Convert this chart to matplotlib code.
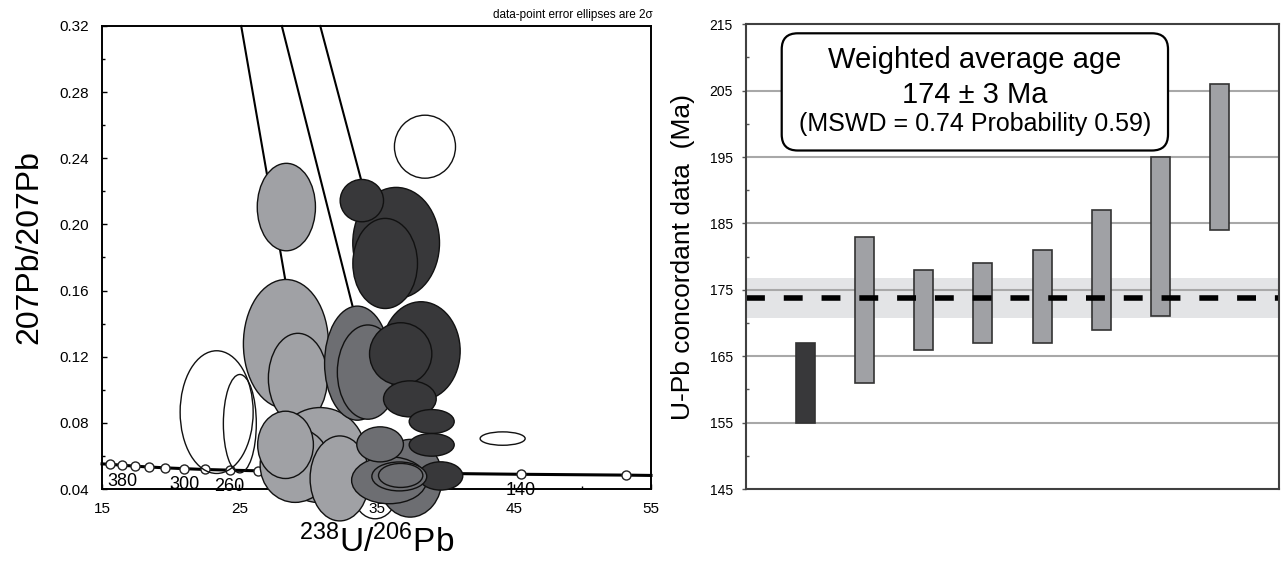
import matplotlib
matplotlib.use("Agg")
import matplotlib.pyplot as plt
from matplotlib.patches import Ellipse, FancyBboxPatch
from matplotlib.ticker import FixedLocator

plt.rcParams['font.family'] = ['Liberation Sans', 'DejaVu Sans']
plt.rcParams['mathtext.fontset'] = 'custom'
plt.rcParams['mathtext.rm'] = 'Liberation Sans'
plt.rcParams['mathtext.it'] = 'Liberation Sans:italic'
plt.rcParams['mathtext.bf'] = 'Liberation Sans:bold'

# --- left panel: Tera-Wasserburg diagram ---
x_ticks = [15, 25, 35, 45, 55]
x_minor = [20, 30, 40, 50]
y_ticks = [0.04, 0.08, 0.12, 0.16, 0.20, 0.24, 0.28, 0.32]
y_minor = [0.06, 0.10, 0.14, 0.18, 0.22, 0.26, 0.30]

# concordia age markers (Ma) and their positions
conc_age = [400, 380, 360, 340, 320, 300, 280, 260, 240, 220, 200, 180, 160, 140, 120]
conc_x = [15.6, 16.45, 17.4, 18.45, 19.6, 21.0, 22.5, 24.3, 26.35, 28.8, 31.7, 35.3, 39.8, 45.5, 53.2]
conc_y = [0.0549, 0.0544, 0.0538, 0.0533, 0.0528, 0.0523, 0.0518, 0.0514, 0.0510,
          0.0506, 0.0502, 0.0498, 0.0494, 0.0489, 0.0484]
conc_end_x = [15.0, 55.0]
conc_end_y = [0.0552, 0.0482]
conc_labels = [380, 300, 260, 220, 180, 140]

# common-Pb mixing lines (top point, lower point)
mix_x0 = [25.14, 28.10, 30.90]
mix_y0 = [0.32, 0.32, 0.32]
mix_x1 = [29.95, 34.79, 36.02]
mix_y1 = [0.09, 0.10, 0.16]

# data-point error ellipses: centre, width, height, group (in drawing order)
ell_x = [23.35, 25.04, 38.53, 44.19, 34.9,
         28.43, 28.40, 29.27, 30.89, 29.07, 28.37, 32.32,
         33.6, 34.37, 37.45, 35.92, 35.26,
         36.43, 35.63, 33.93, 38.24, 36.76, 37.43, 39.02, 39.02, 39.67,
         36.66, 36.76]
ell_y = [0.0865, 0.0795, 0.247, 0.0705, 0.036,
         0.2105, 0.1277, 0.1069, 0.0605, 0.0544, 0.0667, 0.0464,
         0.1161, 0.1107, 0.0465, 0.0453, 0.067,
         0.1888, 0.1764, 0.2144, 0.1235, 0.1217, 0.0945, 0.0808, 0.0667, 0.0479,
         0.0476, 0.0482]
ell_w = [5.32, 2.40, 4.45, 3.28, 3.0,
         4.24, 6.2, 4.3, 6.7, 5.1, 4.06, 4.32,
         4.77, 4.45, 4.66, 5.47, 3.4,
         6.32, 4.71, 3.16, 5.71, 4.54, 3.84, 3.28, 3.28, 3.23,
         4.0, 3.23]
ell_h = [0.0742, 0.0595, 0.0381, 0.0081, 0.028,
         0.0529, 0.078, 0.0545, 0.0575, 0.045, 0.0407, 0.0514,
         0.069, 0.057, 0.047, 0.0284, 0.0212,
         0.0672, 0.0545, 0.0256, 0.0595, 0.0377, 0.0218, 0.0145, 0.0137, 0.0171,
         0.0175, 0.0145]
ell_group = ['open'] * 5 + ['light'] * 7 + ['mid'] * 5 + ['dark'] * 9 + ['mid'] * 2

# --- right panel: weighted average ---
age_ticks = [145, 155, 165, 175, 185, 195, 205, 215]
age_minor = [150, 160, 170, 180, 190, 200, 210]
bar_pos = [1, 2, 3, 4, 5, 6, 7, 8]
bar_low = [155, 161, 166, 167, 167, 169, 171, 184]
bar_high = [167, 183, 178, 179, 181, 187, 195, 206]
bar_group = ['dark'] + ['light'] * 7
wavg = 173.8
wavg_err = 3.0

fills = {'open': 'none', 'light': '#a0a1a5', 'mid': '#6d6e72', 'dark': '#38383a'}

fig = plt.figure(figsize=(12.82, 5.70), dpi=100)
ax = fig.add_axes([0.0796, 0.1421, 0.4282, 0.8123])
ax2 = fig.add_axes([0.5819, 0.1421, 0.4158, 0.8153])

# left panel
ax.set_xlim(15, 55)
ax.set_ylim(0.04, 0.32)
for x0, y0, x1, y1 in zip(mix_x0, mix_y0, mix_x1, mix_y1):
    ax.plot([x0, x1], [y0, y1], color='black', lw=1.5, zorder=2, clip_on=False)

cx = [conc_end_x[0]] + conc_x + [conc_end_x[1]]
cy = [conc_end_y[0]] + conc_y + [conc_end_y[1]]
ax.plot(cx, cy, color='black', lw=2.2, zorder=2, clip_on=False)
ax.plot(conc_x, conc_y, ls='none', marker='o', ms=6.5, mfc='white', mec='#222222',
        mew=1, zorder=2.2, clip_on=False)
for age in conc_labels:
    i = conc_age.index(age)
    ax.text(conc_x[i], conc_y[i] - 0.0098, str(age), ha='center', va='center',
            fontsize=13, zorder=2.3)

for i in range(len(ell_x)):
    g = ell_group[i]
    e = Ellipse((ell_x[i], ell_y[i]), ell_w[i], ell_h[i], facecolor=fills[g],
                edgecolor='#111111', lw=1.0, zorder=4 + i * 0.01, clip_on=False)
    ax.add_patch(e)

ax.xaxis.set_major_locator(FixedLocator(x_ticks))
ax.xaxis.set_minor_locator(FixedLocator(x_minor))
ax.yaxis.set_major_locator(FixedLocator(y_ticks))
ax.yaxis.set_minor_locator(FixedLocator(y_minor))
ax.set_xticklabels([str(v) for v in x_ticks])
ax.set_yticklabels([f'{v:.2f}' for v in y_ticks])
ax.tick_params(which='major', direction='in', length=3.6, width=1, labelsize=11, pad=9.5)
ax.tick_params(which='minor', direction='in', length=2.2, width=1)
for s in ax.spines.values():
    s.set_linewidth(1.4)
    s.set_zorder(3)

ax.set_xlabel('$^{238}$U/$^{206}$Pb', fontsize=24)
ax.xaxis.set_label_coords(0.5, -0.076)
ax.set_ylabel('207Pb/207Pb', fontsize=23)
ax.yaxis.set_label_coords(-0.105, 0.523)
fig.text(0.509, 0.9737, 'data-point error ellipses are 2\u03c3', ha='right', va='center',
         fontsize=8.5)

# right panel
ax2.set_xlim(0, 9)
ax2.set_ylim(145, 215)
ax2.axhspan(wavg - wavg_err, wavg + wavg_err, color='#e3e4e6', lw=0, zorder=0.5)
for v in age_ticks[1:-1]:
    ax2.axhline(v, color='#a8a8a8', lw=1.5, zorder=1)
heights = [h - l for l, h in zip(bar_low, bar_high)]
ax2.bar(bar_pos, heights, bottom=bar_low, width=0.32,
        color=[fills[g] for g in bar_group], edgecolor='#333333', lw=1.2, zorder=2)
ax2.axhline(wavg, color='black', lw=4, ls=(0, (3.4, 3.4)), zorder=3)

box = FancyBboxPatch((0.067, 0.7284), 0.7247, 0.2522, transform=ax2.transAxes,
                     boxstyle='round,pad=0,rounding_size=0.03', mutation_aspect=1.147,
                     facecolor='white', edgecolor='black', lw=1.6, zorder=4)
ax2.add_patch(box)
ax2.text(0.4296, 0.9053, 'Weighted average age', transform=ax2.transAxes,
         ha='center', va='baseline', fontsize=21, zorder=5)
ax2.text(0.4296, 0.830, '174 \u00b1 3 Ma', transform=ax2.transAxes,
         ha='center', va='baseline', fontsize=21, zorder=5)
ax2.text(0.4296, 0.7693, '(MSWD = 0.74 Probability 0.59)', transform=ax2.transAxes,
         ha='center', va='baseline', fontsize=18, zorder=5)

ax2.yaxis.set_major_locator(FixedLocator(age_ticks))
ax2.yaxis.set_minor_locator(FixedLocator(age_minor))
ax2.set_yticklabels([str(v) for v in age_ticks])
ax2.set_xticks([])
ax2.tick_params(axis='y', which='major', direction='out', length=3, width=1,
                labelsize=10, pad=6.5, color='#555555')
ax2.tick_params(axis='y', which='minor', direction='in', length=2.2, width=1, color='#555555')
for s in ax2.spines.values():
    s.set_linewidth(1.5)
    s.set_color('#404040')
    s.set_zorder(6)
ax2.set_ylabel('U-Pb concordant data  (Ma)', fontsize=19)
ax2.yaxis.set_label_coords(-0.096, 0.5)

fig.savefig('out.png', dpi=100)
